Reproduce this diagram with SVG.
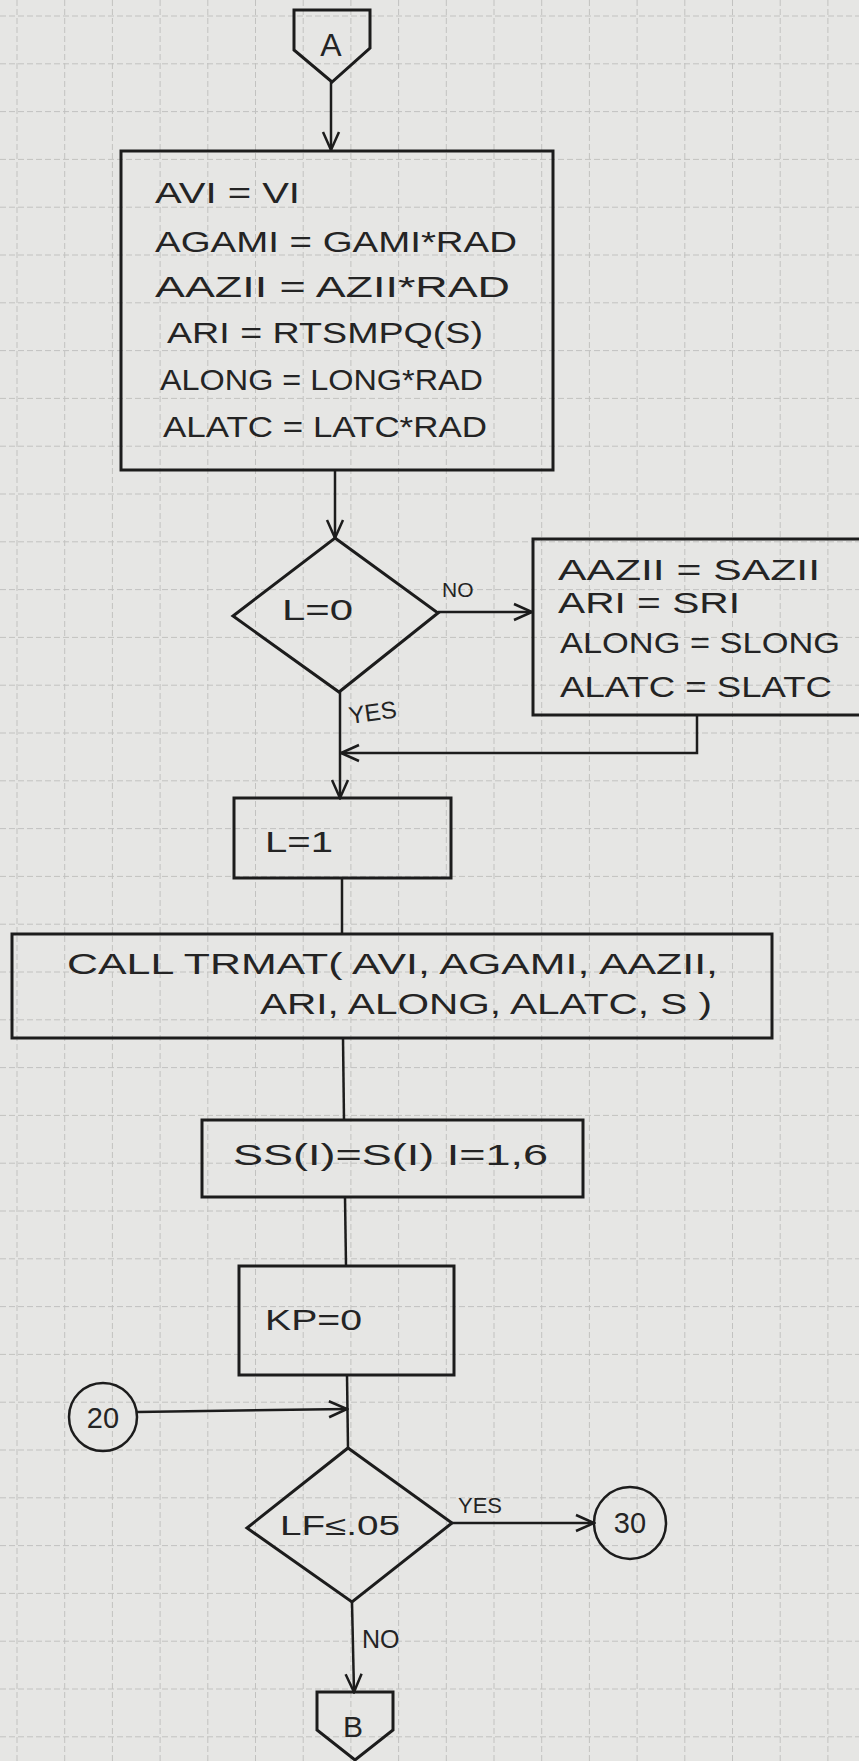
<svg xmlns="http://www.w3.org/2000/svg" width="859" height="1761" viewBox="0 0 859 1761">
<style>
.bx{fill:none;stroke:#1c1c1c;stroke-width:3;stroke-linejoin:miter}
.ln{fill:none;stroke:#1c1c1c;stroke-width:2.5}
.gr{fill:none;stroke:#c2c2c0;stroke-width:1;stroke-dasharray:6 3}
.t{font-family:"Liberation Sans",Arial,sans-serif;fill:#242424}
.m{font-size:29px}
.s{font-size:21px}
</style>
<defs>
<marker id="arr" viewBox="0 0 22 22" refX="20" refY="11" markerWidth="22" markerHeight="22" markerUnits="userSpaceOnUse" orient="auto">
<path d="M2,3 L20,11 L2,19" fill="none" stroke="#1c1c1c" stroke-width="2.5"/>
</marker>
</defs>
<rect x="0" y="0" width="859" height="1761" fill="#e6e6e4"/>
<g id="grid">
<path class="gr" d="M17,0V1761M64.7,0V1761M112.4,0V1761M160.1,0V1761M207.8,0V1761M255.5,0V1761M303.2,0V1761M350.9,0V1761M398.6,0V1761M446.3,0V1761M494,0V1761M541.7,0V1761M589.4,0V1761M637.1,0V1761M684.8,0V1761M732.5,0V1761M780.2,0V1761M827.9,0V1761"/>
<path class="gr" d="M0,16H859M0,63.8H859M0,111.6H859M0,159.4H859M0,207.2H859M0,255H859M0,302.8H859M0,350.6H859M0,398.4H859M0,446.2H859M0,494H859M0,541.8H859M0,589.6H859M0,637.4H859M0,685.2H859M0,733H859M0,780.8H859M0,828.6H859M0,876.4H859M0,924.2H859M0,972H859M0,1019.8H859M0,1067.6H859M0,1115.4H859M0,1163.2H859M0,1211H859M0,1258.8H859M0,1306.6H859M0,1354.4H859M0,1402.2H859M0,1450H859M0,1497.8H859M0,1545.6H859M0,1593.4H859M0,1641.2H859M0,1689H859M0,1736.8H859"/>
</g>
<g id="connectors">
<line class="ln" x1="331" y1="82" x2="331" y2="150" marker-end="url(#arr)"/>
<line class="ln" x1="335" y1="470" x2="335" y2="538" marker-end="url(#arr)"/>
<line class="ln" x1="438" y1="612" x2="532" y2="612" marker-end="url(#arr)"/>
<text class="t s" x="442" y="597">NO</text>
<line class="ln" x1="340" y1="692" x2="340" y2="798" marker-end="url(#arr)"/>
<text class="t" x="350" y="724" font-size="24" transform="rotate(-8 350 724)">YES</text>
<polyline class="ln" points="697,715 697,753 341,753" marker-end="url(#arr)"/>
<line class="ln" x1="342" y1="878" x2="342" y2="935"/>
<line class="ln" x1="343" y1="1038" x2="344" y2="1121"/>
<line class="ln" x1="345" y1="1197" x2="346" y2="1266"/>
<line class="ln" x1="347" y1="1375" x2="348" y2="1448"/>
<line class="ln" x1="137" y1="1412" x2="347" y2="1409" marker-end="url(#arr)"/>
<line class="ln" x1="452" y1="1523" x2="594" y2="1523" marker-end="url(#arr)"/>
<text class="t" x="458" y="1513" font-size="22">YES</text>
<line class="ln" x1="352" y1="1602" x2="354" y2="1692" marker-end="url(#arr)"/>
<text class="t" x="362" y="1648" font-size="25">NO</text>
</g>
<g id="connA">
<polygon class="bx" points="294,10 370,10 370,48 332,82 294,50"/>
<text class="t" x="331" y="56" font-size="32" text-anchor="middle">A</text>
</g>
<g id="init">
<rect class="bx" x="121" y="151" width="432" height="319"/>
<text class="t m" x="155" y="203" textLength="145" lengthAdjust="spacingAndGlyphs">AVI = VI</text>
<text class="t m" x="155" y="252" textLength="362" lengthAdjust="spacingAndGlyphs">AGAMI = GAMI*RAD</text>
<text class="t m" x="155" y="297" textLength="355" lengthAdjust="spacingAndGlyphs">AAZII = AZII*RAD</text>
<text class="t m" x="167" y="343" textLength="316" lengthAdjust="spacingAndGlyphs">ARI = RTSMPQ(S)</text>
<text class="t m" x="160" y="390" textLength="323" lengthAdjust="spacingAndGlyphs">ALONG = LONG*RAD</text>
<text class="t m" x="163" y="437" textLength="324" lengthAdjust="spacingAndGlyphs">ALATC = LATC*RAD</text>
</g>
<g id="dec1">
<polygon class="bx" points="335,538 438,613 339,692 233,616"/>
<text class="t" x="282" y="620" font-size="30" textLength="71" lengthAdjust="spacingAndGlyphs">L=0</text>
</g>
<g id="restore">
<rect class="bx" x="533" y="539" width="340" height="176"/>
<text class="t m" x="558" y="580" textLength="262" lengthAdjust="spacingAndGlyphs">AAZII = SAZII</text>
<text class="t m" x="558" y="613" textLength="182" lengthAdjust="spacingAndGlyphs">ARI = SRI</text>
<text class="t m" x="560" y="653" textLength="280" lengthAdjust="spacingAndGlyphs">ALONG = SLONG</text>
<text class="t m" x="560" y="697" textLength="272" lengthAdjust="spacingAndGlyphs">ALATC = SLATC</text>
</g>
<g id="setL">
<rect class="bx" x="234" y="798" width="217" height="80"/>
<text class="t" x="265" y="852" font-size="30" textLength="68" lengthAdjust="spacingAndGlyphs">L=1</text>
</g>
<g id="call">
<rect class="bx" x="12" y="934" width="760" height="104"/>
<text class="t m" x="67" y="974" textLength="651" lengthAdjust="spacingAndGlyphs">CALL TRMAT( AVI, AGAMI, AAZII,</text>
<text class="t m" x="260" y="1014" textLength="452" lengthAdjust="spacingAndGlyphs">ARI, ALONG, ALATC, S )</text>
</g>
<g id="copy">
<rect class="bx" x="202" y="1120" width="381" height="77"/>
<text class="t m" x="233" y="1165" textLength="315" lengthAdjust="spacingAndGlyphs">SS(I)=S(I) I=1,6</text>
</g>
<g id="kp">
<rect class="bx" x="239" y="1266" width="215" height="109"/>
<text class="t m" x="265" y="1330" textLength="97" lengthAdjust="spacingAndGlyphs">KP=0</text>
</g>
<g id="conn20">
<circle class="ln" cx="103" cy="1417" r="34"/>
<text class="t" x="103" y="1428" font-size="29" text-anchor="middle">20</text>
</g>
<g id="dec2">
<polygon class="bx" points="348,1448 452,1523 352,1602 247,1528"/>
<text class="t" x="280" y="1535" font-size="27" textLength="120" lengthAdjust="spacingAndGlyphs">LF≤.05</text>
</g>
<g id="conn30">
<circle class="ln" cx="630" cy="1523" r="36"/>
<text class="t" x="630" y="1533" font-size="29" text-anchor="middle">30</text>
</g>
<g id="connB">
<polygon class="bx" points="317,1692 393,1692 393,1730 355,1760 317,1730"/>
<text class="t" x="353" y="1737" font-size="30" text-anchor="middle">B</text>
</g>
</svg>
